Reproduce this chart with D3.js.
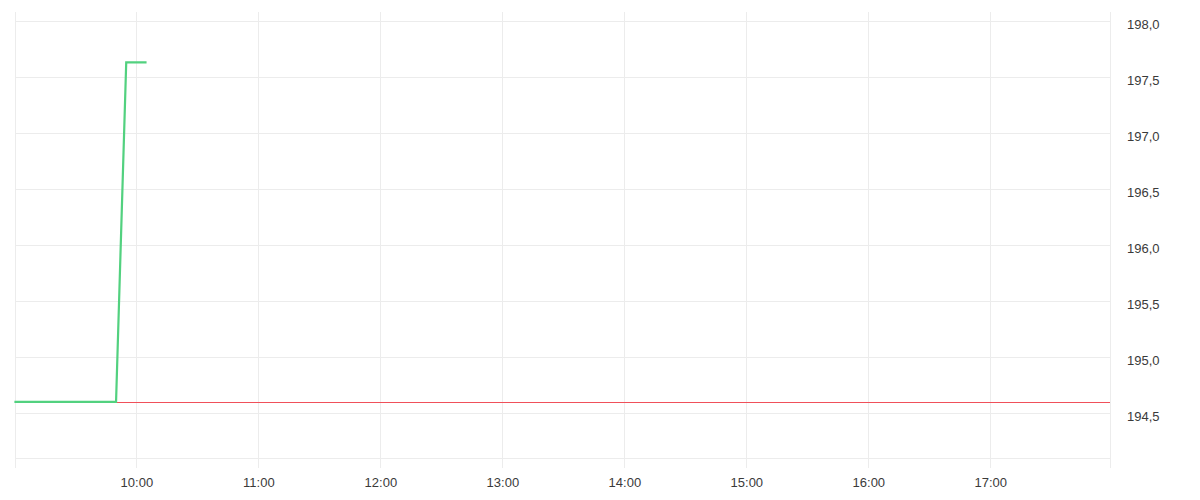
<!DOCTYPE html>
<html>
<head>
<meta charset="utf-8">
<script src="https://cdn.jsdelivr.net/npm/d3@7"></script>
<style>
  html, body { margin: 0; padding: 0; background: #fff; }
  svg { display: block; }
  text { font-family: "Liberation Sans", Arial, sans-serif; font-size: 13px; fill: #3a3a3a; }
</style>
</head>
<body>
<svg id="chart" width="1200" height="500"></svg>
<script>
// ---- data ----
const times = ["09:00","09:05","09:10","09:15","09:20","09:25","09:30","09:35","09:40","09:45","09:50","09:55","10:00","10:05"];
const prices = [194.6,194.6,194.6,194.6,194.6,194.6,194.6,194.6,194.6,194.6,194.6,197.63,197.63,197.63];
const refPrice = 194.597;
const yTicks = [194.5,195.0,195.5,196.0,196.5,197.0,197.5,198.0];
const xTickLabels = ["10:00","11:00","12:00","13:00","14:00","15:00","16:00","17:00"];
const xDomain = ["09:00","18:00"];

// ---- layout ----
const padLeft = 15, padRight = 1110, padTop = 12, padBottom = 458, tickExt = 10;
const parse = d3.timeParse("%H:%M");

const x = d3.scaleTime()
  .domain(xDomain.map(parse))
  .range([14.4, 1112.3]);
const y = d3.scaleLinear()
  .domain([194.5, 198.0])
  .range([413, 21]);

const svg = d3.select("#chart");
const grid = "#ececec";

// horizontal grid
svg.append("g").selectAll("line").data(yTicks).join("line")
  .attr("x1", padLeft).attr("x2", padRight)
  .attr("y1", d => Math.round(y(d)) + 0.5).attr("y2", d => Math.round(y(d)) + 0.5)
  .attr("stroke", grid).attr("stroke-width", 1);
// bottom border
svg.append("line")
  .attr("x1", padLeft).attr("x2", padRight)
  .attr("y1", padBottom + 0.5).attr("y2", padBottom + 0.5)
  .attr("stroke", grid);

// vertical grid (time ticks)
const xTicks = xTickLabels.map(parse);
svg.append("g").selectAll("line").data(xTicks).join("line")
  .attr("x1", d => Math.round(x(d)) + 0.5).attr("x2", d => Math.round(x(d)) + 0.5)
  .attr("y1", padTop).attr("y2", padBottom + tickExt)
  .attr("stroke", grid);
// left and right borders
[padLeft, padRight].forEach(px => {
  svg.append("line")
    .attr("x1", px + 0.5).attr("x2", px + 0.5)
    .attr("y1", padTop).attr("y2", padBottom + tickExt)
    .attr("stroke", grid);
});

// y axis labels (right)
const fmt = d => d3.format(".1f")(d).replace(".", ",");
const yAxis = d3.axisRight(y).tickValues(yTicks).tickFormat(fmt).tickSize(0).tickPadding(0);
const ya = svg.append("g").attr("transform", `translate(1127,3)`).call(yAxis);
ya.select(".domain").remove();
ya.selectAll("text").attr("fill", "#3a3a3a").style("font-family", '"Liberation Sans", Arial, sans-serif').style("font-size", "13px");

// x axis labels (bottom)
const xAxis = d3.axisBottom(x).tickValues(xTicks).tickFormat(d3.timeFormat("%H:%M")).tickSize(0).tickPadding(0);
const xa = svg.append("g").attr("transform", `translate(0,478)`).call(xAxis);
xa.select(".domain").remove();
xa.selectAll("text").attr("fill", "#3a3a3a").style("font-family", '"Liberation Sans", Arial, sans-serif').style("font-size", "13px");

// reference line (red)
const ry = Math.floor(y(refPrice)) + 0.5;
svg.append("line")
  .attr("x1", padLeft).attr("x2", padRight)
  .attr("y1", ry).attr("y2", ry)
  .attr("stroke", "#f0505a").attr("stroke-width", 1);

// price line (green)
const line = d3.line()
  .x((d, i) => x(parse(times[i])))
  .y(d => y(d));
svg.append("path")
  .datum(prices)
  .attr("d", line)
  .attr("fill", "none")
  .attr("stroke", "#52d17f")
  .attr("stroke-width", 2.2)
  .attr("stroke-linejoin", "miter");
</script>
</body>
</html>
